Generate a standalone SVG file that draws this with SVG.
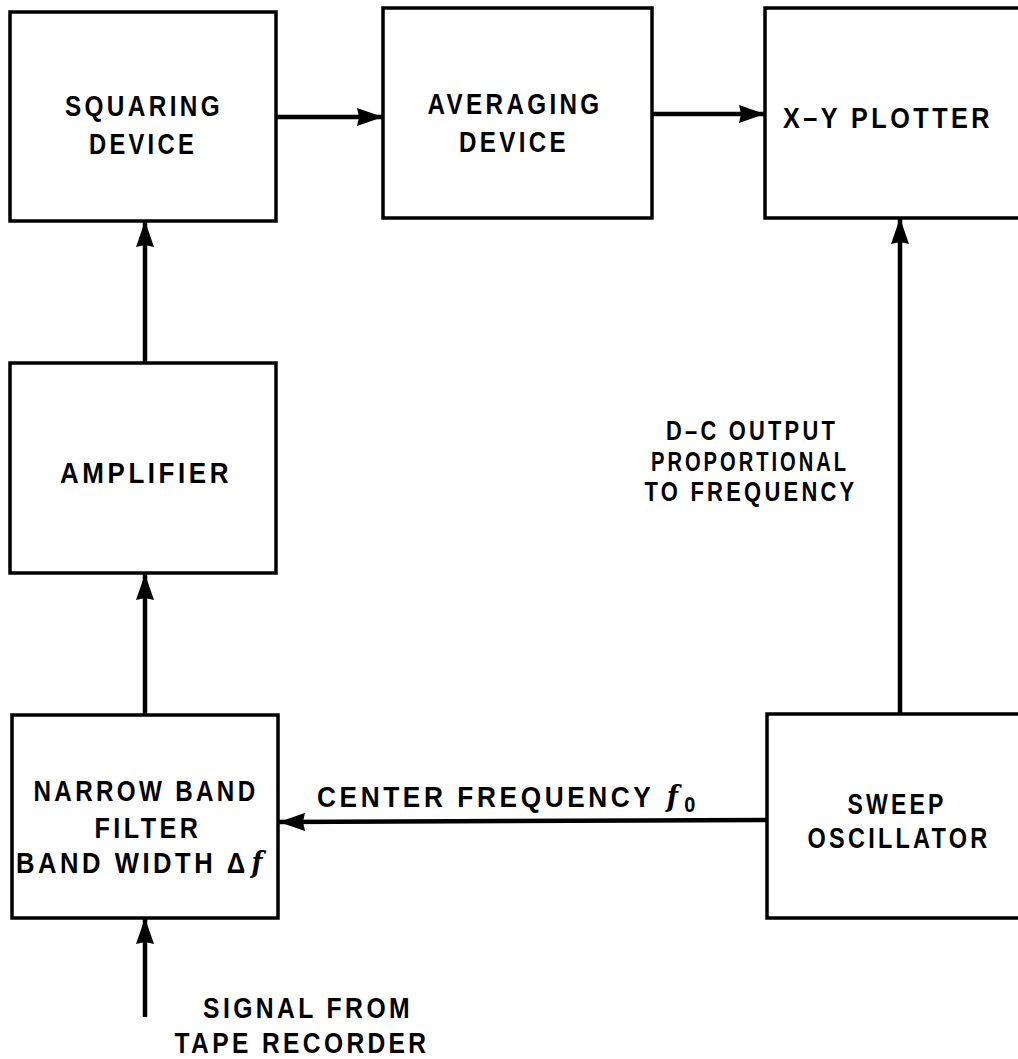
<svg xmlns="http://www.w3.org/2000/svg" width="1018" height="1059" viewBox="0 0 1018 1059">
<style>
.box{fill:none;stroke:#000;stroke-width:3.5}
.ln{fill:none;stroke:#000;stroke-width:4.5}
.t{font-family:"Liberation Sans",Arial,sans-serif;font-weight:bold;font-size:29px;letter-spacing:4px;fill:#000;text-anchor:middle}
.s{font-size:27px}
.fi{font-family:"DejaVu Serif","Liberation Serif",serif;font-style:italic;font-weight:bold}
</style>
<defs>
<marker id="ah" viewBox="0 0 26 18" refX="26" refY="9" markerWidth="26" markerHeight="18" markerUnits="userSpaceOnUse" orient="auto">
<path d="M0,0 L26,9 L0,18 L2,9 Z" fill="#000"/>
</marker>
</defs>
<rect width="1018" height="1059" fill="#fff"/>

<g id="connectors">
<line class="ln" x1="277" y1="117" x2="383" y2="117" marker-end="url(#ah)"/>
<line class="ln" x1="652" y1="114" x2="765" y2="114" marker-end="url(#ah)"/>
<line class="ln" x1="145" y1="363" x2="145" y2="221" marker-end="url(#ah)"/>
<line class="ln" x1="145" y1="714" x2="145" y2="574" marker-end="url(#ah)"/>
<line class="ln" x1="145" y1="1017" x2="145" y2="918" marker-end="url(#ah)"/>
<line class="ln" x1="767" y1="820" x2="279" y2="822" marker-end="url(#ah)"/>
<line class="ln" x1="900" y1="714" x2="900" y2="218" marker-end="url(#ah)"/>
</g>

<g id="squaring">
<rect class="box" x="10" y="12" width="266" height="209"/>
<text class="t" x="144" y="116" textLength="158" lengthAdjust="spacingAndGlyphs">SQUARING</text>
<text class="t" x="143" y="154" textLength="108" lengthAdjust="spacingAndGlyphs">DEVICE</text>
</g>

<g id="averaging">
<rect class="box" x="383" y="8" width="269" height="210"/>
<text class="t" x="515" y="114" textLength="175" lengthAdjust="spacingAndGlyphs">AVERAGING</text>
<text class="t" x="514" y="152" textLength="110" lengthAdjust="spacingAndGlyphs">DEVICE</text>
</g>

<g id="xyplotter">
<path class="box" d="M1018,8 H765 V218 H1018"/>
<text class="t" x="888" y="128" textLength="210" lengthAdjust="spacingAndGlyphs">X–Y  PLOTTER</text>
</g>

<g id="amplifier">
<rect class="box" x="10" y="363" width="266" height="210"/>
<text class="t" x="146" y="483" textLength="172" lengthAdjust="spacingAndGlyphs">AMPLIFIER</text>
</g>

<g id="filter">
<rect class="box" x="12" y="715" width="266" height="203"/>
<text class="t" x="146" y="801" textLength="225" lengthAdjust="spacingAndGlyphs">NARROW  BAND</text>
<text class="t" x="148" y="838" textLength="107" lengthAdjust="spacingAndGlyphs">FILTER</text>
<text class="t" x="141" y="873" textLength="250" lengthAdjust="spacingAndGlyphs">BAND  WIDTH Δ<tspan class="fi" dx="3">f</tspan></text>
</g>

<g id="sweep">
<path class="box" d="M1018,714 H767 V918 H1018"/>
<text class="t" x="897" y="814" textLength="99" lengthAdjust="spacingAndGlyphs">SWEEP</text>
<text class="t" x="899" y="848" textLength="183" lengthAdjust="spacingAndGlyphs">OSCILLATOR</text>
</g>

<g id="labels">
<text class="t" x="317" y="807" style="text-anchor:start" textLength="382" lengthAdjust="spacingAndGlyphs">CENTER  FREQUENCY  <tspan class="fi" dx="2">f</tspan><tspan font-size="22" dx="3" dy="5">0</tspan></text>
<text class="t s" x="752" y="440" textLength="172" lengthAdjust="spacingAndGlyphs">D–C  OUTPUT</text>
<text class="t s" x="750" y="470.5" textLength="198" lengthAdjust="spacingAndGlyphs">PROPORTIONAL</text>
<text class="t s" x="751" y="501" textLength="213" lengthAdjust="spacingAndGlyphs">TO  FREQUENCY</text>
<text class="t" x="308" y="1018" textLength="210" lengthAdjust="spacingAndGlyphs">SIGNAL  FROM</text>
<text class="t" x="302" y="1053" textLength="255" lengthAdjust="spacingAndGlyphs">TAPE  RECORDER</text>
</g>
</svg>
